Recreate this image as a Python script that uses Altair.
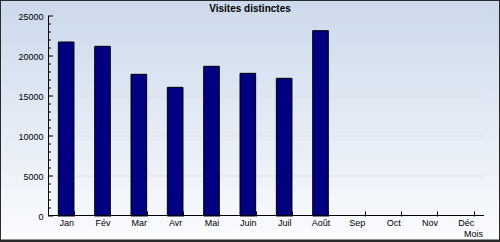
import altair as alt
import pandas as pd

months = ["Jan", "Fév", "Mar", "Avr", "Mai", "Juin", "Juil", "Août", "Sep", "Oct", "Nov", "Déc"]
visits = [21750, 21210, 17710, 16085, 18710, 17835, 17210, 23165, None, None, None, None]
major_ticks = [0, 5000, 10000, 15000, 20000, 25000]
minor_ticks = [v for v in range(0, 25001, 1000) if v % 5000 != 0]
title_text = "Visites distinctes"
x_title = "Mois"

W, H = 436, 200
PL, PT, PR, PB = 48, 16, 16, 26

df = pd.DataFrame({"mois": months, "visites": visits})
one = pd.DataFrame({"a": [0]})

yscale = alt.Scale(domain=[0, 25000], nice=False)
xscale = alt.Scale(domain=months, paddingInner=0.57, paddingOuter=0.285)
yaxis = alt.Axis(values=major_ticks, ticks=False, domain=False, grid=False, format="d",
                 labelPadding=5, labelFont="Liberation Sans", labelFontSize=9,
                 labelColor="#000000", zindex=1)

grad = alt.LinearGradient(
    gradient="linear",
    stops=[alt.GradientStop(color="#cbd9ec", offset=0),
           alt.GradientStop(color="#fbfcfe", offset=1)],
    x1=0, x2=0, y1=0, y2=1,
)

bg = alt.Chart(one).mark_rect(fill=grad, stroke="#2a2a2a", strokeWidth=2).encode(
    x=alt.value(-PL), x2=alt.value(W + PR), y=alt.value(-PT), y2=alt.value(H + PB)
)
shadow = alt.Chart(one).mark_rule(color="#2a2a2a", strokeWidth=2).encode(
    x=alt.value(-PL), x2=alt.value(W + PR), y=alt.value(H + PB - 1.5)
)

grid = alt.Chart(pd.DataFrame({"v": major_ticks[1:]})).mark_rule(
    color="#e4dcdc", strokeWidth=1
).encode(y=alt.Y("v:Q", scale=yscale, axis=yaxis, title=None), x=alt.value(0), x2=alt.value(W))

bars = alt.Chart(df).mark_bar(color="#000080", stroke="#000000", strokeWidth=1).encode(
    x=alt.X("mois:N", scale=xscale, sort=months, title=None,
            axis=alt.Axis(labelAngle=0, domain=False, tickBand="extent", tickSize=5,
                          offset=-5, tickColor="#000000", labelPadding=2,
                          labelFont="Liberation Sans", labelFontSize=9,
                          labelColor="#000000", zindex=1)),
    y=alt.Y("visites:Q", scale=yscale, title=None, axis=yaxis),
)

yaxis_line = alt.Chart(one).mark_rule(color="#000000").encode(
    x=alt.value(0.5), y=alt.value(0), y2=alt.value(H)
)
xaxis_line = alt.Chart(one).mark_rule(color="#000000").encode(
    y=alt.value(H - 0.5), x=alt.value(0), x2=alt.value(W)
)
major = alt.Chart(pd.DataFrame({"v": major_ticks})).mark_rule(color="#000000").encode(
    y=alt.Y("v:Q", scale=yscale, axis=yaxis, title=None), x=alt.value(0), x2=alt.value(5)
)
minor = alt.Chart(pd.DataFrame({"v": minor_ticks})).mark_rule(color="#000000").encode(
    y=alt.Y("v:Q", scale=yscale, axis=yaxis, title=None), x=alt.value(0), x2=alt.value(3)
)

title = alt.Chart(pd.DataFrame({"t": [title_text]})).mark_text(
    font="Liberation Sans", fontSize=10, fontWeight="bold", color="#000000",
    align="center", baseline="middle"
).encode(text="t:N", x=alt.value(250 - PL), y=alt.value(9 - PT))

xlab = alt.Chart(pd.DataFrame({"t": [x_title]})).mark_text(
    font="Liberation Sans", fontSize=9, color="#000000", align="right", baseline="middle"
).encode(text="t:N", x=alt.value(483 - PL), y=alt.value(234 - PT))

chart = alt.layer(bg, shadow, grid, bars, yaxis_line, xaxis_line, major, minor, title, xlab).properties(
    width=W, height=H,
    autosize=alt.AutoSizeParams(type="none"),
    padding={"left": PL, "top": PT, "right": PR, "bottom": PB},
).configure_view(stroke=None).configure(background="#ffffff")

chart.save("out.html", embed_options={"renderer": "svg", "actions": False})
